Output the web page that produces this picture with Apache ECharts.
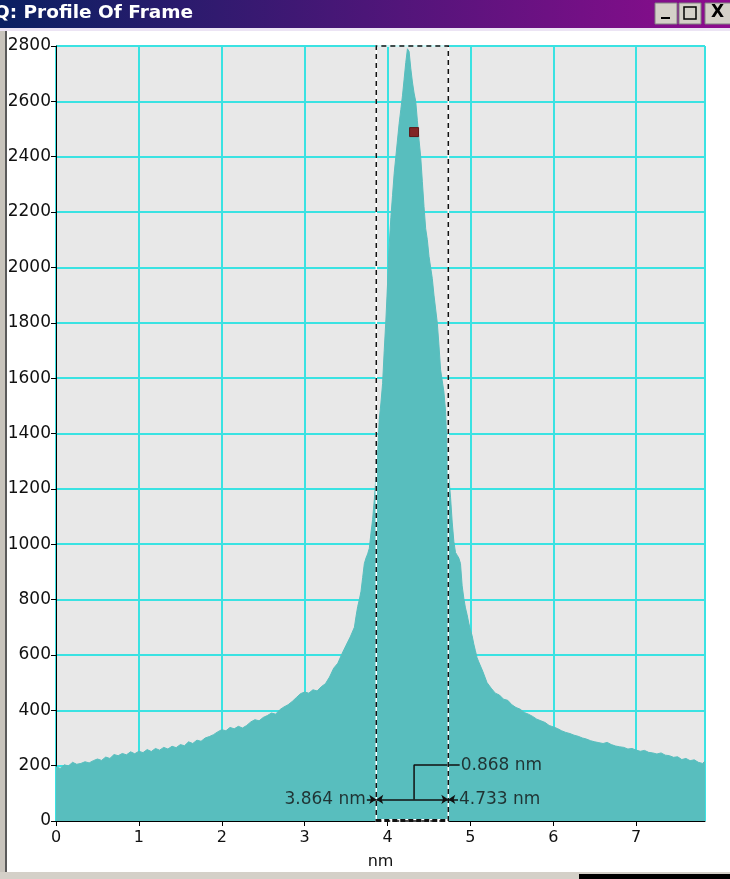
<!DOCTYPE html>
<html>
<head>
<meta charset="utf-8">
<title>Profile Of Frame</title>
<script src="https://cdn.jsdelivr.net/npm/echarts@6/dist/echarts.min.js"></script>
<style>
  html, body { margin: 0; padding: 0; background: #fff; }
  #chart { width: 730px; height: 879px; }
</style>
</head>
<body>
<div id="chart"></div>
<script>
  // profile, [nm, counts]
  const leftTail = [
    [0.00, 196], [0.05, 190], [0.10, 203], [0.15, 199], [0.20, 212], [0.25, 205], [0.30, 208],
    [0.35, 214], [0.40, 210], [0.45, 218], [0.50, 224], [0.55, 219], [0.60, 231], [0.65, 226],
    [0.70, 240], [0.75, 236], [0.80, 244], [0.85, 239], [0.90, 250], [0.95, 243], [1.00, 252],
    [1.05, 247], [1.10, 258], [1.15, 251], [1.20, 262], [1.25, 256], [1.30, 266], [1.35, 260],
    [1.40, 270], [1.45, 265], [1.50, 276], [1.55, 272], [1.60, 286], [1.65, 280], [1.70, 292],
    [1.75, 288], [1.80, 300], [1.85, 305], [1.90, 312], [1.95, 322], [2.00, 330], [2.05, 326],
    [2.10, 338], [2.15, 333], [2.20, 342], [2.25, 336], [2.30, 345], [2.35, 358], [2.40, 366],
    [2.45, 362], [2.50, 374], [2.55, 381], [2.60, 390], [2.65, 386], [2.70, 402], [2.75, 412],
    [2.80, 420], [2.85, 432], [2.90, 446], [2.95, 460], [3.00, 466], [3.05, 462], [3.10, 474],
    [3.15, 470], [3.20, 485], [3.25, 496], [3.30, 520], [3.35, 552], [3.40, 570], [3.45, 604],
    [3.50, 635], [3.55, 665], [3.60, 700]
  ];
  const peakPart = [
    [3.62, 740], [3.64, 775], [3.66, 800], [3.68, 830], [3.70, 880], [3.72, 930], [3.74, 950],
    [3.76, 965], [3.78, 985], [3.80, 1040], [3.82, 1090], [3.84, 1160], [3.86, 1240], [3.88, 1330],
    [3.90, 1450], [3.92, 1510], [3.94, 1580], [3.96, 1700], [3.98, 1810], [4.00, 1940], [4.02, 2080],
    [4.04, 2180], [4.06, 2260], [4.08, 2340], [4.10, 2400], [4.12, 2460], [4.14, 2520], [4.16, 2570],
    [4.18, 2620], [4.20, 2680], [4.22, 2740], [4.24, 2790], [4.26, 2780], [4.28, 2720], [4.30, 2670],
    [4.32, 2630], [4.34, 2600], [4.36, 2530], [4.38, 2460], [4.40, 2400], [4.42, 2310], [4.44, 2220],
    [4.46, 2140], [4.48, 2100], [4.50, 2040], [4.52, 2000], [4.54, 1960], [4.56, 1900], [4.58, 1850],
    [4.60, 1800], [4.62, 1720], [4.64, 1630], [4.66, 1590], [4.68, 1550], [4.70, 1480], [4.72, 1330],
    [4.74, 1240], [4.76, 1170], [4.78, 1080], [4.80, 1010], [4.82, 970], [4.84, 960], [4.86, 950],
    [4.88, 930], [4.90, 850], [4.92, 805], [4.94, 770], [4.96, 745], [4.98, 715], [5.00, 690],
    [5.02, 670], [5.04, 640], [5.06, 615], [5.08, 590], [5.10, 575]
  ];
  const rightTail = [
    [5.15, 540], [5.20, 500], [5.25, 480], [5.30, 462], [5.35, 455], [5.40, 440], [5.45, 436],
    [5.50, 420], [5.55, 410], [5.60, 404], [5.65, 392], [5.70, 386], [5.75, 378], [5.80, 368],
    [5.85, 362], [5.90, 356], [5.95, 345], [6.00, 340], [6.05, 334], [6.10, 326], [6.15, 320],
    [6.20, 316], [6.25, 310], [6.30, 306], [6.35, 300], [6.40, 296], [6.45, 290], [6.50, 286],
    [6.55, 283], [6.60, 280], [6.65, 284], [6.70, 276], [6.75, 271], [6.80, 268], [6.85, 266],
    [6.90, 260], [6.95, 262], [7.00, 256], [7.05, 252], [7.10, 255], [7.15, 248], [7.20, 246],
    [7.25, 242], [7.30, 246], [7.35, 238], [7.40, 236], [7.45, 230], [7.50, 232], [7.55, 222],
    [7.60, 226], [7.65, 218], [7.70, 221], [7.75, 212], [7.80, 208], [7.83, 216]
  ];
  const profile = leftTail.concat(peakPart, rightTail);

  const xMax = 7.83;
  const yMax = 2800;
  const boxLeft = 3.864;
  const boxRight = 4.733;
  const boxLabels = ['3.864 nm', '4.733 nm'];
  const widthLabel = '0.868 nm';
  const lowerY = 78;
  const upperY = 202;
  const bracketX = 4.32;
  const cursorPoint = [4.32, 2489];

  const FONT = '"DejaVu Sans", sans-serif';
  const chart = echarts.init(document.getElementById('chart'));

  const option = {
    animation: false,
    backgroundColor: '#ffffff',
    grid: {
      left: 56, right: 25, top: 46, bottom: 58,
      show: true,
      backgroundColor: '#e8e8e8',
      borderColor: '#000',
      borderWidth: 1
    },
    xAxis: {
      type: 'value',
      min: 0, max: xMax, interval: 1,
      name: 'nm',
      nameLocation: 'middle',
      nameGap: 33,
      nameTextStyle: { color: '#111', fontFamily: FONT, fontSize: 16 },
      axisLine: { lineStyle: { color: '#000' } },
      axisTick: { length: 5, lineStyle: { color: '#000' } },
      axisLabel: {
        color: '#111', fontFamily: FONT, fontSize: 16, margin: 9, showMaxLabel: false,
        formatter: v => String(v)
      },
      splitLine: { show: true, lineStyle: { color: '#3ae2e2', width: 2 } }
    },
    yAxis: {
      type: 'value',
      min: 0, max: yMax, interval: 200,
      axisLine: { show: true, lineStyle: { color: '#000' } },
      axisTick: { show: true, length: 5, lineStyle: { color: '#000' } },
      axisLabel: { color: '#111', fontFamily: FONT, fontSize: 17, margin: 5, formatter: v => String(v) },
      splitLine: { show: true, lineStyle: { color: '#3ae2e2', width: 2 } }
    },
    series: [
      {
        name: 'profile',
        type: 'line',
        data: profile,
        symbol: 'none',
        z: 2,
        lineStyle: { color: '#58bebe', width: 1 },
        areaStyle: { color: '#58bebe', opacity: 1 }
      },
      {
        // white under-stroke of the selection box
        type: 'line', data: [], z: 4,
        markArea: {
          silent: true, z: 10,
          itemStyle: { color: 'rgba(0,0,0,0)', borderColor: '#fff', borderWidth: 1.5 },
          data: [[{ coord: [boxLeft, 0] }, { coord: [boxRight, yMax] }]]
        },
        markLine: {
          silent: true, z: 10, symbol: 'none',
          label: { show: false },
          lineStyle: { color: '#fff', width: 3, type: 'solid' },
          data: [[{ coord: [boxLeft, 3] }, { coord: [boxRight, 3] }]]
        }
      },
      {
        type: 'line', data: [], z: 5,
        markArea: {
          silent: true, z: 11,
          itemStyle: { color: 'rgba(0,0,0,0)', borderColor: '#111', borderWidth: 1.5, borderType: [5, 4] },
          data: [[{ coord: [boxLeft, 0] }, { coord: [boxRight, yMax] }]]
        },
        markLine: {
          silent: true, z: 11, symbol: 'none',
          label: { show: false },
          lineStyle: { color: '#111', width: 3, type: [5, 3] },
          data: [[{ coord: [boxLeft, 3] }, { coord: [boxRight, 3] }]]
        }
      },
      {
        // bracket from the span to the width label
        type: 'line', z: 6,
        data: [[bracketX, lowerY], [bracketX, upperY], [4.87, upperY]],
        symbol: 'none',
        lineStyle: { color: '#111', width: 1.5 },
        markLine: {
          silent: true, z: 12,
          symbolSize: 7,
          label: { show: false },
          lineStyle: { color: '#111', width: 1.5, type: 'solid' },
          data: [
            [{ coord: [boxLeft, lowerY], symbol: 'arrow' }, { coord: [boxRight, lowerY], symbol: 'arrow' }],
            [{ coord: [3.75, lowerY], symbol: 'none' }, { coord: [boxLeft, lowerY], symbol: 'arrow' }],
            [{ coord: [4.85, lowerY], symbol: 'none' }, { coord: [boxRight, lowerY], symbol: 'arrow' }]
          ]
        }
      },
      {
        type: 'scatter', z: 7,
        symbolSize: 0,
        data: [
          { value: [3.75, lowerY], label: { position: 'left', formatter: boxLabels[0] } },
          { value: [4.85, lowerY], label: { position: 'right', formatter: boxLabels[1] } },
          { value: [4.87, upperY], label: { position: 'right', formatter: widthLabel } }
        ],
        label: { show: true, color: '#111', fontFamily: FONT, fontSize: 17, distance: 1 }
      },
      {
        type: 'scatter', z: 8,
        symbol: 'rect', symbolSize: 9,
        itemStyle: { color: '#8b0000', borderColor: '#5a0000', borderWidth: 1 },
        data: [cursorPoint]
      }
    ],
    graphic: [
      {
        type: 'rect', z: 100,
        shape: { x: 0, y: 0, width: 730, height: 28 },
        style: {
          fill: new echarts.graphic.LinearGradient(0, 0, 1, 0, [
            { offset: 0, color: '#0a2062' },
            { offset: 1, color: '#8e0c8e' }
          ])
        }
      },
      { type: 'rect', z: 100, shape: { x: 0, y: 28, width: 730, height: 3 }, style: { fill: '#ece4f4' } },
      {
        type: 'text', z: 101, x: -6, y: 4,
        style: { text: 'Q: Profile Of Frame', fill: '#fff', font: 'bold 18.5px ' + FONT }
      },
      { type: 'rect', z: 101, shape: { x: 655, y: 3, width: 22, height: 21 }, style: { fill: '#d4d0c8', stroke: '#808080' } },
      { type: 'rect', z: 101, shape: { x: 679, y: 3, width: 22, height: 21 }, style: { fill: '#d4d0c8', stroke: '#808080' } },
      { type: 'rect', z: 101, shape: { x: 705, y: 3, width: 26, height: 21 }, style: { fill: '#d4d0c8', stroke: '#808080' } },
      { type: 'rect', z: 102, shape: { x: 661, y: 17, width: 9, height: 2 }, style: { fill: '#000' } },
      { type: 'rect', z: 102, shape: { x: 684, y: 7, width: 12, height: 12 }, style: { fill: 'none', stroke: '#000', lineWidth: 1.5 } },
      {
        type: 'text', z: 102, x: 711, y: 4,
        style: { text: 'X', fill: '#000', font: 'bold 17px ' + FONT }
      },
      { type: 'rect', z: 100, shape: { x: 0, y: 31, width: 6, height: 848 }, style: { fill: '#c8c4bc' } },
      { type: 'rect', z: 100, shape: { x: 5, y: 31, width: 2, height: 848 }, style: { fill: '#5a5a5a' } },
      { type: 'rect', z: 100, shape: { x: 0, y: 872, width: 730, height: 7 }, style: { fill: '#d4d0c8' } },
      { type: 'rect', z: 100, shape: { x: 579, y: 874, width: 151, height: 5 }, style: { fill: '#000' } }
    ]
  };

  chart.setOption(option);
</script>
</body>
</html>
